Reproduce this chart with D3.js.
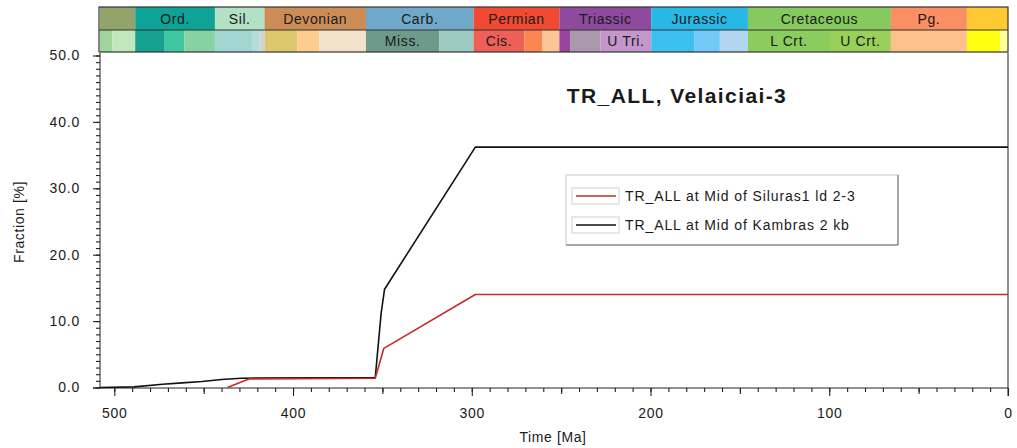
<!DOCTYPE html>
<html>
<head>
<meta charset="utf-8">
<script src="https://cdn.jsdelivr.net/npm/d3@7"></script>
<style>
  html, body { margin: 0; padding: 0; background: #fff; }
  svg { display: block; }
  text { font-family: "Liberation Sans", Arial, sans-serif; fill: #1a1a1a; }
</style>
</head>
<body>
<svg id="chart" width="1017" height="448"></svg>
<script>
// Burial-history output: transformation ratio through time (Ma)
const seriesNames = ["TR_ALL at Mid of Siluras1 ld 2-3", "TR_ALL at Mid of Kambras 2 kb"];
const seriesColors = ["#c42a2a", "#111111"];

const silurasAge = [436.7, 424.4, 354.0, 349.2, 298.0, 0];
const silurasTR  = [0.0,   1.3,   1.4,   5.9,   14.0,  14.0];

const kambrasAge = [508, 489, 473, 462, 451, 440, 429, 354, 350.7, 348.8, 298, 0];
const kambrasTR  = [0.0, 0.1, 0.5, 0.7, 0.9, 1.2, 1.4, 1.5, 11.2, 14.8, 36.2, 36.2];

const xTickValues = [500, 400, 300, 200, 100, 0];
const yTickValues = [0, 10, 20, 30, 40, 50];

// Geological time scale: periods (upper row)
const periodNames  = ["", "Ord.", "Sil.", "Devonian", "Carb.", "Permian", "Triassic", "Jurassic", "Cretaceous", "Pg.", ""];
const periodStart  = [508, 488.3, 443.7, 416.0, 359.2, 299.0, 251.0, 199.6, 145.5, 65.5, 23.0];
const periodEnd    = [488.3, 443.7, 416.0, 359.2, 299.0, 251.0, 199.6, 145.5, 65.5, 23.0, 0];
const periodColors = ["#93a46a", "#0fa397", "#b3e1c6", "#cb8d55", "#6fa8c8", "#f04a32", "#8e4a9c", "#28b8e6", "#86c95e", "#fb8e62", "#ffc934"];

// Epochs (lower row)
const epochNames  = ["", "", "", "", "", "", "", "", "", "", "", "Miss.", "", "Cis.", "", "", "", "", "U Tri.", "", "", "", "L Crt.", "U Crt.", "", "", ""];
const epochStart  = [508, 501, 488.3, 471.8, 460.9, 443.7, 422.9, 418.7, 416.0, 397.5, 385.3, 359.2, 318.1, 299.0, 270.6, 260.4, 251.0, 245.0, 228.0, 199.6, 175.6, 161.2, 145.5, 99.6, 65.5, 23.0, 4.5];
const epochEnd    = [501, 488.3, 471.8, 460.9, 443.7, 422.9, 418.7, 416.0, 397.5, 385.3, 359.2, 318.1, 299.0, 270.6, 260.4, 251.0, 245.0, 228.0, 199.6, 175.6, 161.2, 145.5, 99.6, 65.5, 23.0, 4.5, 0];
const epochColors = ["#9fd49a", "#c4e6bf", "#16a08e", "#3fc79f", "#86d2a2", "#a2d6d0", "#b6dcd8", "#cdd6d6", "#dcc66e", "#fccd8e", "#f3e2cb", "#6e9a8c", "#9dcbc2", "#ec6058", "#fa8652", "#fcc597", "#9a44a0", "#a997aa", "#c496cc", "#3cc0ef", "#72c8f6", "#b3d6f0", "#8ccc5e", "#98d05a", "#fcbf8e", "#ffff10", "#ffff9a"];

const svg = d3.select("#chart");

const plotL = 100, plotR = 1008, plotT = 53, plotB = 388;
const x = d3.scaleLinear().domain([508, 0]).range([plotL, plotR]);
const y = d3.scaleLinear().domain([0, 50]).range([387.5, 55.5]);

// --- time scale bar ---
const tsTop = 7, tsMid = 30, tsBot = 52;
const ts = svg.append("g");
const periods = periodNames.map((n, i) => ({ n, s: periodStart[i], e: periodEnd[i], c: periodColors[i] }));
const epochs = epochNames.map((n, i) => ({ n, s: epochStart[i], e: epochEnd[i], c: epochColors[i] }));

ts.selectAll("rect.ep").data(epochs).join("rect")
  .attr("x", d => x(d.s)).attr("y", tsMid)
  .attr("width", d => x(d.e) - x(d.s)).attr("height", tsBot - tsMid)
  .attr("fill", d => d.c);
ts.selectAll("rect.pe").data(periods).join("rect")
  .attr("x", d => x(d.s)).attr("y", tsTop)
  .attr("width", d => x(d.e) - x(d.s)).attr("height", tsMid - tsTop)
  .attr("fill", d => d.c);

ts.append("rect").attr("x", plotL - 1).attr("y", tsTop).attr("width", plotR - plotL + 1).attr("height", tsBot - tsTop)
  .attr("fill", "none").attr("stroke", "#333").attr("stroke-width", 1.2);
ts.append("line").attr("x1", plotL - 1).attr("x2", plotR).attr("y1", tsMid).attr("y2", tsMid)
  .attr("stroke", "#333").attr("stroke-width", 1.2);

ts.selectAll("text.pl").data(periods.filter(d => d.n)).join("text")
  .attr("x", d => (x(d.s) + x(d.e)) / 2).attr("y", tsMid - 6)
  .attr("text-anchor", "middle").attr("font-size", 14).attr("letter-spacing", 0.6)
  .text(d => d.n);
ts.selectAll("text.el").data(epochs.filter(d => d.n)).join("text")
  .attr("x", d => (x(d.s) + x(d.e)) / 2).attr("y", tsBot - 6)
  .attr("text-anchor", "middle").attr("font-size", 14).attr("letter-spacing", 0.6)
  .text(d => d.n);

// --- axes ---
const axisStyle = g => {
  g.select(".domain").attr("stroke", "#222");
  g.selectAll(".tick line").attr("stroke", "#222").attr("stroke-width", 1.1);
  g.selectAll(".tick text").attr("font-family", "Liberation Sans, Arial, sans-serif")
    .attr("font-size", 14).attr("letter-spacing", 0.8).attr("fill", "#1a1a1a");
};

const gx = svg.append("g").attr("transform", `translate(0,${plotB})`);
gx.call(d3.axisBottom(x).tickValues(d3.range(0, 501, 10)).tickSize(4).tickSizeOuter(0).tickFormat(""));
gx.append("g").call(d3.axisBottom(x).tickValues([450, 350, 250, 150, 50]).tickSize(6).tickSizeOuter(0).tickFormat(""))
  .select(".domain").remove();
const gxMajor = gx.append("g").call(d3.axisBottom(x).tickValues(xTickValues).tickSize(8).tickPadding(12).tickSizeOuter(0).tickFormat(d3.format("d")));
gxMajor.select(".domain").remove();
gx.call(axisStyle);
gx.selectAll("g").call(axisStyle);

const gy = svg.append("g").attr("transform", `translate(${plotL},0)`);
gy.call(d3.axisLeft(y).tickValues(d3.range(0, 51, 1)).tickSize(4).tickSizeOuter(0).tickFormat(""));
const gyMajor = gy.append("g").call(d3.axisLeft(y).tickValues(yTickValues).tickSize(7).tickPadding(13).tickSizeOuter(0).tickFormat(d3.format(".1f")));
gyMajor.select(".domain").remove();
gy.call(axisStyle);
gy.selectAll("g").call(axisStyle);
gy.select(".domain").attr("d", `M0,${plotT}V${plotB}`);
gx.select(".domain").attr("d", `M${plotL - 7},0H${plotR}`);

// right frame edge
svg.append("line").attr("x1", plotR).attr("x2", plotR).attr("y1", plotT).attr("y2", plotB + 8)
  .attr("stroke", "#222");

// axis titles
svg.append("text").attr("x", 553).attr("y", 442).attr("text-anchor", "middle")
  .attr("font-size", 14).attr("letter-spacing", 0.6).text("Time [Ma]");
svg.append("text").attr("transform", "translate(24,222) rotate(-90)").attr("text-anchor", "middle")
  .attr("font-size", 14).attr("letter-spacing", 0.6).text("Fraction [%]");

// chart title
svg.append("text").attr("x", 677).attr("y", 103).attr("text-anchor", "middle")
  .attr("font-size", 21).attr("font-weight", "bold").attr("letter-spacing", 1.4)
  .text("TR_ALL, Velaiciai-3");

// --- data lines ---
const line = d3.line().x(d => x(d[0])).y(d => y(d[1]));
const series = [
  { name: seriesNames[0], color: seriesColors[0], pts: silurasAge.map((a, i) => [a, silurasTR[i]]) },
  { name: seriesNames[1], color: seriesColors[1], pts: kambrasAge.map((a, i) => [a, kambrasTR[i]]) }
];
svg.append("g").selectAll("path").data(series.slice().reverse()).join("path")
  .attr("d", d => line(d.pts)).attr("fill", "none")
  .attr("stroke", d => d.color).attr("stroke-width", 1.6).attr("stroke-linejoin", "round");

// --- legend ---
const lg = svg.append("g").attr("transform", "translate(566,175)");
const lw = 332, lh = 70;
lg.append("rect").attr("width", lw).attr("height", lh).attr("fill", "#fff").attr("stroke", "#c8c8c8");
lg.append("path").attr("d", `M${lw},0V${lh}H0`).attr("fill", "none").attr("stroke", "#6a6a6a");
series.forEach((s, i) => {
  const cy = 21 + i * 29;
  lg.append("rect").attr("x", 6).attr("y", cy - 8).attr("width", 47).attr("height", 16)
    .attr("fill", "#fff").attr("stroke", "#cfcfcf");
  lg.append("line").attr("x1", 10).attr("x2", 50).attr("y1", cy).attr("y2", cy)
    .attr("stroke", s.color).attr("stroke-width", 1.3);
  lg.append("text").attr("x", 59).attr("y", cy + 5).attr("font-size", 14).attr("letter-spacing", 0.9)
    .text(s.name);
});
</script>
</body>
</html>
